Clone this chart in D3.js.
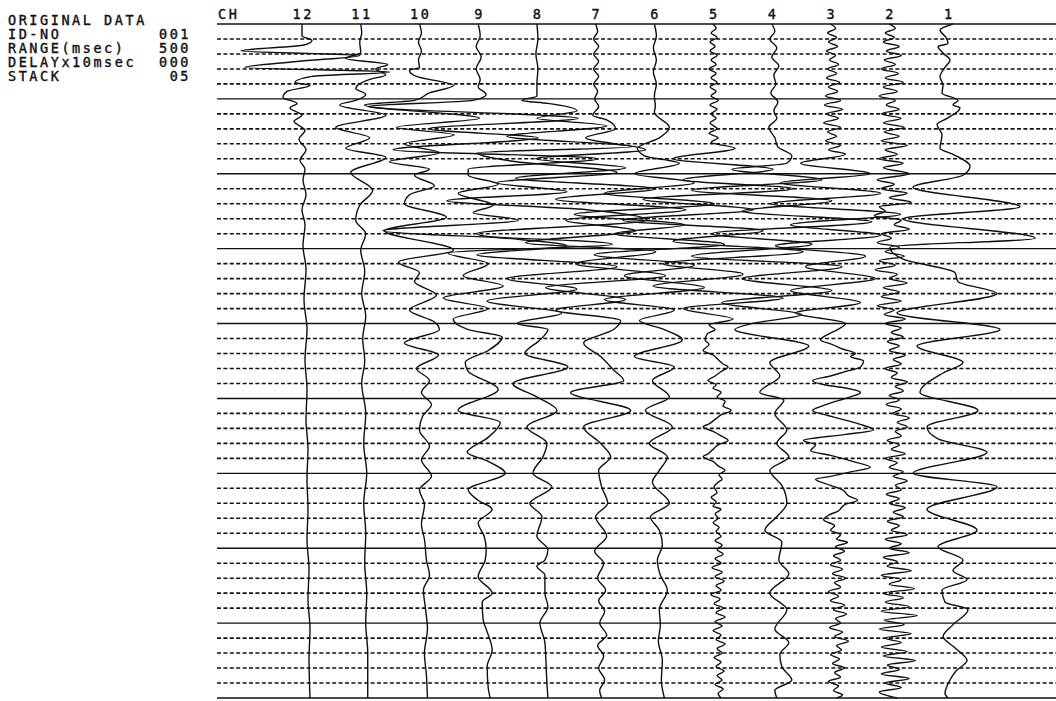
<!DOCTYPE html>
<html>
<head>
<meta charset="utf-8">
<script src="https://cdn.jsdelivr.net/npm/d3@7"></script>
<style>
  body { margin: 0; background: #fff; }
  text { font-family: "DejaVu Sans Mono", monospace; font-size: 13.5px; letter-spacing: 2.55px; fill: #111; stroke: #111; stroke-width: 0.4px; }
</style>
</head>
<body>
<div id="chart"></div>
<script>
// header block
var infoLabels = ["ORIGINAL DATA", "ID-NO", "RANGE(msec)", "DELAYx10msec", "STACK"];
var infoValues = ["", "001", "500", "000", "05"];

// channels, left to right
var channels = [12, 11, 10, 9, 8, 7, 6, 5, 4, 3, 2, 1];

// each trace: [time ms, amplitude]
var ch12 = [[0,0],[8,0],[11,10],[14,2],[18,-61],[21,58],[25,-5],[29,-57],[32,88],[35,10],[39,-7],[41,8],[45,-15],[49,-19],[53,-5],[56,-12],[61,0],[65,-8],[71,3],[77,-3],[84,4],[91,-2],[97,3],[104,1],[114,4],[124,0],[134,3],[148,1],[164,4],[184,2],[204,5],[224,3],[244,5],[264,4],[284,6],[304,5],[324,6],[344,5],[364,7],[384,6],[404,8],[424,7],[450,8]];

var ch11 = [[0,0],[6,1],[12,-1],[19,0],[23,-15],[27,27],[30,15],[34,25],[37,9],[43,-5],[47,5],[51,-5],[54,-21],[61,25],[69,-25],[76,9],[83,-15],[89,25],[99,-10],[111,12],[121,-1],[131,-5],[140,5],[151,0],[165,4],[180,1],[195,5],[210,2],[225,4],[240,1],[260,5],[280,3],[300,6],[320,3],[340,5],[360,4],[380,6],[400,5],[420,7],[450,7]];

var ch10 = [[0,0],[6,2],[12,-1],[18,2],[24,-1],[29,0],[31,-10],[35,-3],[41,34],[46,10],[51,-5],[54,-55],[63,60],[69,-23],[74,35],[80,-15],[86,20],[92,-30],[97,10],[101,-5],[108,15],[114,-10],[120,-15],[129,27],[138,-35],[151,34],[159,-21],[166,0],[172,-5],[181,17],[191,-10],[199,15],[204,20],[213,-15],[221,19],[230,-3],[238,10],[246,2],[254,12],[262,3],[271,0],[282,10],[291,2],[302,12],[311,0],[321,5],[334,2],[344,5],[358,7],[368,10],[378,4],[390,6],[404,8],[420,5],[435,7],[450,8]];

var ch9 = [[0,0],[8,2],[15,-2],[22,3],[30,-2],[37,2],[42,0],[47,8],[51,-5],[55,-110],[63,100],[70,-50],[76,60],[84,-85],[90,120],[97,-10],[101,-10],[107,20],[113,-20],[121,15],[126,-5],[131,40],[138,-95],[147,134],[153,-30],[160,10],[168,-15],[175,25],[183,-35],[190,10],[197,-25],[204,-10],[209,24],[218,10],[226,-13],[232,-10],[244,20],[258,-20],[266,22],[276,10],[286,-11],[292,10],[300,27],[311,-10],[318,0],[324,14],[333,0],[342,6],[351,8],[358,7],[369,0],[380,14],[386,4],[398,5],[404,8],[418,14],[429,9],[443,10],[450,12]];

var ch8 = [[0,0],[10,1],[20,-1],[30,1],[40,0],[48,0],[51,-15],[53,11],[58,40],[63,0],[68,70],[75,-30],[82,95],[86,-60],[92,-20],[99,80],[106,-40],[112,30],[118,-90],[124,50],[131,110],[140,-60],[148,30],[154,-60],[162,80],[170,-30],[177,40],[185,-50],[193,25],[200,-20],[204,11],[211,3],[220,-12],[229,31],[240,-24],[249,0],[258,20],[269,-10],[280,10],[289,6],[300,-4],[309,15],[320,-7],[329,5],[342,0],[351,11],[358,8],[362,0],[368,8],[380,8],[389,11],[400,3],[413,8],[425,9],[440,10],[450,11]];

var ch7 = [[0,0],[5,2],[10,-2],[15,3],[20,-2],[25,3],[30,-2],[35,3],[40,-2],[45,2],[50,-1],[55,3],[61,-3],[64,11],[70,20],[76,-10],[84,50],[90,-60],[96,30],[103,-80],[110,60],[117,-40],[124,90],[131,-30],[138,40],[146,-70],[152,60],[160,-20],[168,70],[176,-50],[184,30],[191,-40],[198,25],[204,18],[213,-12],[222,5],[231,18],[238,28],[246,-25],[258,35],[269,-12],[280,5],[289,15],[298,3],[309,6],[320,12],[329,0],[342,11],[352,-1],[360,8],[370,2],[378,10],[385,3],[392,9],[400,4],[408,11],[415,2],[422,8],[430,3],[438,9],[445,4],[450,6]];

var ch6 = [[0,0],[8,2],[16,-1],[24,2],[32,-1],[40,2],[48,0],[55,1],[59,0],[69,15],[76,5],[83,-17],[88,-10],[93,25],[100,-20],[106,40],[113,-50],[120,60],[127,-80],[134,30],[140,-40],[147,70],[154,-60],[161,40],[168,-30],[176,50],[184,-50],[191,20],[198,-15],[204,10],[211,28],[222,-20],[229,20],[238,-2],[249,15],[258,-9],[269,18],[280,-5],[289,13],[298,5],[306,-2],[320,15],[329,-4],[338,5],[348,8],[358,3],[368,6],[378,13],[391,5],[401,6],[412,4],[425,8],[438,7],[450,10]];

var ch5 = [[0,0],[3,3],[6,-2],[9,4],[12,-3],[15,2],[18,-3],[21,4],[24,-2],[27,3],[30,-4],[33,3],[36,-2],[39,4],[42,-3],[45,3],[48,-2],[51,5],[54,-3],[57,4],[60,-2],[63,3],[66,-3],[70,4],[73,-4],[76,5],[79,-2],[83,22],[90,-40],[97,60],[104,-30],[110,80],[117,-70],[124,40],[131,-90],[138,50],[145,-40],[152,90],[160,-50],[167,30],[175,-60],[183,70],[190,-30],[197,20],[201,-4],[204,2],[207,-6],[211,-8],[214,-4],[218,-10],[221,0],[224,5],[227,10],[229,15],[232,8],[235,2],[238,-5],[241,3],[243,0],[246,8],[249,4],[252,12],[255,10],[258,18],[261,8],[264,2],[267,-4],[269,-10],[272,0],[275,8],[278,15],[281,5],[284,0],[287,-5],[289,-10],[292,0],[295,5],[298,12],[301,6],[304,9],[306,5],[309,1],[313,4],[316,-2],[319,3],[322,0],[324,8],[327,2],[330,5],[333,0],[336,6],[339,3],[342,8],[345,2],[348,9],[351,4],[354,10],[357,2],[360,8],[363,-1],[366,9],[369,2],[372,11],[375,3],[378,8],[381,-2],[384,7],[387,1],[390,10],[393,3],[396,12],[399,2],[402,9],[405,0],[408,8],[411,3],[414,12],[417,4],[420,9],[423,1],[426,8],[429,3],[432,11],[435,4],[438,9],[441,2],[444,10],[447,5],[450,8]];

var ch4 = [[0,0],[5,3],[10,-2],[16,5],[22,0],[28,7],[34,2],[40,4],[46,-1],[52,6],[58,2],[63,5],[69,-3],[76,3],[82,6],[88,20],[93,15],[97,-40],[104,50],[111,-80],[118,60],[125,-30],[132,100],[140,-60],[147,40],[155,-80],[162,70],[170,-30],[178,60],[186,-50],[194,30],[200,-20],[204,-37],[215,37],[226,-2],[235,8],[246,-12],[251,12],[260,3],[271,15],[280,5],[289,17],[298,-2],[308,10],[320,15],[329,5],[338,-7],[346,10],[358,7],[367,17],[380,-2],[391,15],[404,3],[413,17],[421,8],[429,10],[438,20],[445,3],[450,5]];

var ch3 = [[0,0],[3,5],[6,-3],[9,6],[12,-2],[15,7],[18,-4],[21,5],[24,-1],[27,8],[30,-3],[33,6],[36,-4],[39,9],[42,-2],[45,7],[48,-5],[51,10],[54,-6],[57,12],[60,-4],[63,8],[66,-7],[69,10],[72,-3],[75,6],[78,-5],[81,10],[84,-2],[87,15],[93,-30],[100,40],[106,-50],[113,50],[120,-60],[127,70],[134,-40],[141,50],[148,-55],[155,35],[162,-25],[170,45],[178,-40],[186,30],[193,-35],[200,15],[204,7],[207,-2],[211,-10],[214,2],[217,12],[220,25],[222,20],[225,33],[229,30],[232,15],[235,0],[238,-18],[241,-5],[243,15],[246,30],[249,20],[252,5],[255,-8],[258,-18],[261,-5],[264,12],[267,28],[271,43],[274,15],[278,-27],[281,-15],[285,-20],[288,0],[292,22],[296,40],[299,20],[302,0],[304,-15],[308,0],[311,12],[315,18],[318,27],[321,14],[325,8],[328,-2],[331,-7],[335,4],[338,0],[341,10],[344,6],[346,17],[349,5],[352,14],[355,3],[358,10],[361,0],[364,12],[367,2],[370,15],[373,4],[376,10],[379,-2],[382,8],[385,0],[388,14],[391,3],[394,16],[397,5],[400,10],[403,-1],[406,12],[409,4],[412,18],[415,6],[418,11],[421,0],[424,9],[427,2],[430,14],[433,4],[436,10],[439,-2],[442,8],[445,3],[448,12],[450,6]];

var ch2 = [[0,0],[3,6],[6,-4],[9,5],[12,-6],[15,10],[18,-3],[21,12],[24,-5],[27,6],[30,-8],[33,9],[36,-4],[39,14],[42,-6],[45,8],[48,-10],[51,6],[54,-3],[57,10],[60,-8],[63,12],[66,-6],[69,15],[72,-5],[75,10],[78,-8],[81,18],[84,-4],[87,8],[90,-10],[93,14],[96,-6],[100,20],[104,-12],[107,5],[110,-8],[113,18],[116,0],[119,22],[122,-10],[125,-4],[128,-15],[131,12],[134,5],[137,20],[140,-8],[143,2],[146,-12],[149,10],[152,-4],[155,15],[158,-10],[161,6],[164,-14],[167,8],[170,0],[173,18],[176,-6],[179,10],[182,-8],[185,12],[188,-12],[191,5],[194,-5],[197,16],[200,-4],[203,12],[206,2],[209,14],[212,-2],[215,10],[218,0],[221,16],[224,4],[227,12],[230,-4],[233,8],[236,2],[239,18],[242,6],[245,14],[248,0],[251,10],[254,-3],[257,12],[260,4],[263,20],[266,8],[269,18],[272,6],[275,12],[278,-2],[281,10],[284,2],[287,16],[290,-4],[293,8],[296,0],[299,14],[302,4],[305,18],[308,6],[311,12],[314,-3],[317,10],[320,0],[323,16],[326,4],[329,14],[332,-2],[335,10],[338,2],[341,18],[344,-4],[347,12],[350,0],[353,20],[356,-6],[359,8],[362,-2],[365,22],[368,-8],[371,12],[374,0],[377,25],[380,-6],[383,14],[386,-4],[389,20],[392,-8],[395,28],[398,-5],[401,15],[404,-10],[407,22],[410,-4],[413,12],[416,-8],[419,18],[422,-6],[425,26],[428,-2],[431,10],[434,-8],[437,20],[440,-4],[443,12],[446,-10],[450,8]];

var ch1 = [[0,5],[4,-8],[9,-2],[13,0],[15,-10],[20,-4],[24,2],[29,-3],[35,-8],[41,-5],[46,-6],[51,10],[54,5],[56,12],[63,-1],[67,-11],[74,-6],[83,-8],[87,5],[95,22],[101,15],[109,-35],[122,72],[130,-45],[143,87],[149,-58],[157,-45],[166,7],[172,10],[180,49],[193,-51],[204,52],[215,-31],[226,15],[233,-5],[246,-28],[258,30],[269,-21],[277,-10],[286,39],[300,-35],[309,49],[324,-21],[338,29],[349,-10],[358,15],[365,5],[371,19],[378,-6],[386,-3],[391,20],[401,5],[409,-5],[416,6],[425,19],[432,8],[438,2],[447,-3],[450,0]];

var traces = [[12, ch12], [11, ch11], [10, ch10], [9, ch9], [8, ch8], [7, ch7],
              [6, ch6], [5, ch5], [4, ch4], [3, ch3], [2, ch2], [1, ch1]];

var width = 1056, height = 701;

var svg = d3.select("#chart").append("svg")
    .attr("width", width)
    .attr("height", height)
    .style("background", "#fff");

var y = d3.scaleLinear().domain([0, 450]).range([24, 698]);
var x = d3.scalePoint().domain(channels).range([302, 948]);
var gain = d3.scaleLinear().domain([-100, 100]).range([-100, 100]);

// time lines: solid every 50 ms, dashed every 10 ms
var times = d3.range(0, 451, 10);
svg.append("g").selectAll("line")
    .data(times)
    .enter().append("line")
    .attr("x1", 217)
    .attr("x2", width)
    .attr("y1", function(d) { return y(d); })
    .attr("y2", function(d) { return y(d); })
    .attr("stroke", "#111")
    .attr("stroke-width", function(d) { return d % 50 === 0 ? 1.4 : 1.6; })
    .attr("stroke-dasharray", function(d) { return d % 50 === 0 ? null : "4,2.4"; });

// traces
var line = d3.line()
    .x(function(d) { return d.x0 + gain(d[1]); })
    .y(function(d) { return y(d[0]); })
    .curve(d3.curveMonotoneY);

svg.append("g").selectAll("path")
    .data(traces)
    .enter().append("path")
    .attr("fill", "none")
    .attr("stroke", "#111")
    .attr("stroke-width", 1.4)
    .attr("stroke-linejoin", "round")
    .attr("d", function(t) {
      var x0 = x(t[0]);
      return line(t[1].map(function(p) { var q = [p[0], p[1]]; q.x0 = x0; return q; }));
    });

// channel header
svg.append("text").attr("x", 218).attr("y", 19).text("CH");
svg.append("g").selectAll("text")
    .data(channels)
    .enter().append("text")
    .attr("x", function(d) { return x(d) + 1.3; })
    .attr("y", 19)
    .attr("text-anchor", "middle")
    .text(function(d) { return d; });

// info block
var info = svg.append("g");
info.selectAll("text.lab")
    .data(infoLabels)
    .enter().append("text")
    .attr("class", "lab")
    .attr("x", 8)
    .attr("y", function(d, i) { return 25 + i * 14; })
    .text(function(d) { return d; });
info.selectAll("text.val")
    .data(infoValues)
    .enter().append("text")
    .attr("class", "val")
    .attr("x", 191)
    .attr("y", function(d, i) { return 25 + i * 14; })
    .attr("text-anchor", "end")
    .text(function(d) { return d; });
</script>
</body>
</html>
